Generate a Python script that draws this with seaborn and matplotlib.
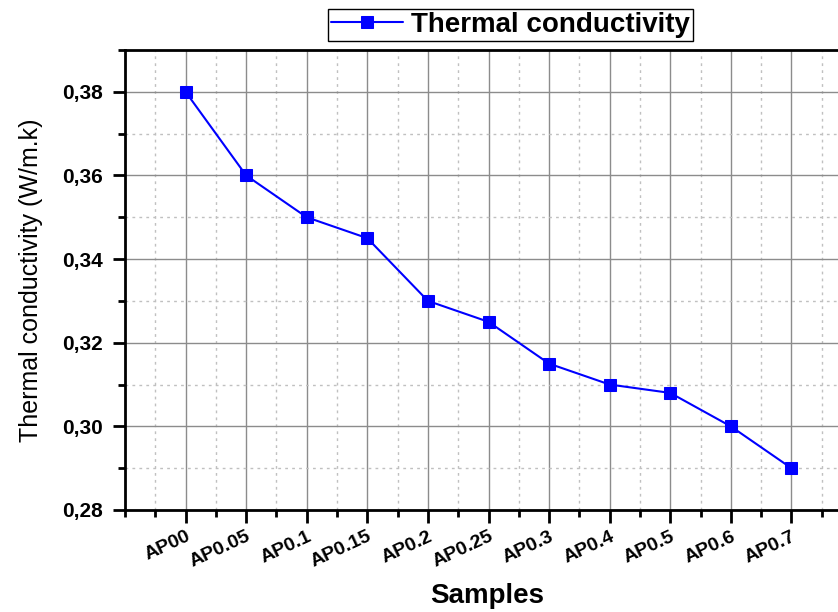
import numpy as np
import matplotlib
matplotlib.use("Agg")
import matplotlib.pyplot as plt
import seaborn as sns
from matplotlib.ticker import MultipleLocator, FuncFormatter

samples = ['AP00', 'AP0.05', 'AP0.1', 'AP0.15', 'AP0.2', 'AP0.25',
           'AP0.3', 'AP0.4', 'AP0.5', 'AP0.6', 'AP0.7']
conductivity = [0.380, 0.360, 0.350, 0.345, 0.330, 0.325,
                0.315, 0.310, 0.308, 0.300, 0.290]

sns.set_style("white")
plt.rcParams['font.family'] = ['Liberation Sans', 'DejaVu Sans']
plt.rcParams['text.color'] = 'black'
plt.rcParams['axes.labelcolor'] = 'black'
plt.rcParams['xtick.color'] = 'black'
plt.rcParams['ytick.color'] = 'black'

fig = plt.figure(figsize=(8.38, 6.12), dpi=100)
# axes runs past the right edge of the figure like in the original
ax = fig.add_axes([125 / 838, 1 - 510 / 612, 727 / 838, 460 / 612])

pos = np.arange(len(samples))
sns.lineplot(x=pos, y=conductivity, ax=ax, color='#0000ff', linewidth=1.5,
             marker='s', markersize=9, markeredgecolor='#0000ff',
             label='Thermal conductivity', legend=False)

ax.set_xlim(-1, 11)
ax.set_ylim(0.28, 0.39)
ax.set_xticks(pos)
ax.set_xticklabels(samples, rotation=25, ha='right', rotation_mode='anchor',
                   fontsize=14, fontweight='bold')
ax.xaxis.set_minor_locator(MultipleLocator(0.5))
ax.yaxis.set_major_locator(MultipleLocator(0.02))
ax.yaxis.set_minor_locator(MultipleLocator(0.01))
ax.yaxis.set_major_formatter(FuncFormatter(lambda v, p: f"{v:.2f}".replace('.', ',')))
for lab in ax.get_yticklabels():
    lab.set_fontweight('bold')
    lab.set_fontsize(15)

ax.grid(which='major', color='#8c8c8c', linestyle='-', linewidth=1.0)
ax.grid(which='minor', color='#c0c0c0', linestyle=(0, (2, 3)), linewidth=1.0)
ax.tick_params(which='major', direction='out', length=9, width=2, bottom=True, left=True)
ax.tick_params(which='minor', direction='out', length=5, width=2, bottom=True, left=True)
ax.tick_params(axis='y', labelsize=15, pad=7)
ax.tick_params(axis='x', pad=4)

for side in ['left', 'bottom', 'top', 'right']:
    ax.spines[side].set_color('black')
    ax.spines[side].set_linewidth(2)

ax.set_ylabel('Thermal conductivity (W/m.k)', fontsize=18, labelpad=14)
ax.set_xlabel('Samples', fontsize=20, fontweight='bold')
ax.xaxis.set_label_coords(0.498, -0.158)

handles, labels = ax.get_legend_handles_labels()
fig.legend(handles, labels, loc='center', bbox_to_anchor=(0.609, 0.959),
           frameon=True, fancybox=False, edgecolor='black', framealpha=1,
           prop={'size': 20, 'weight': 'bold'}, handlelength=2.6,
           borderpad=0.1, handletextpad=0.3)

fig.savefig('out.png', dpi=100)
